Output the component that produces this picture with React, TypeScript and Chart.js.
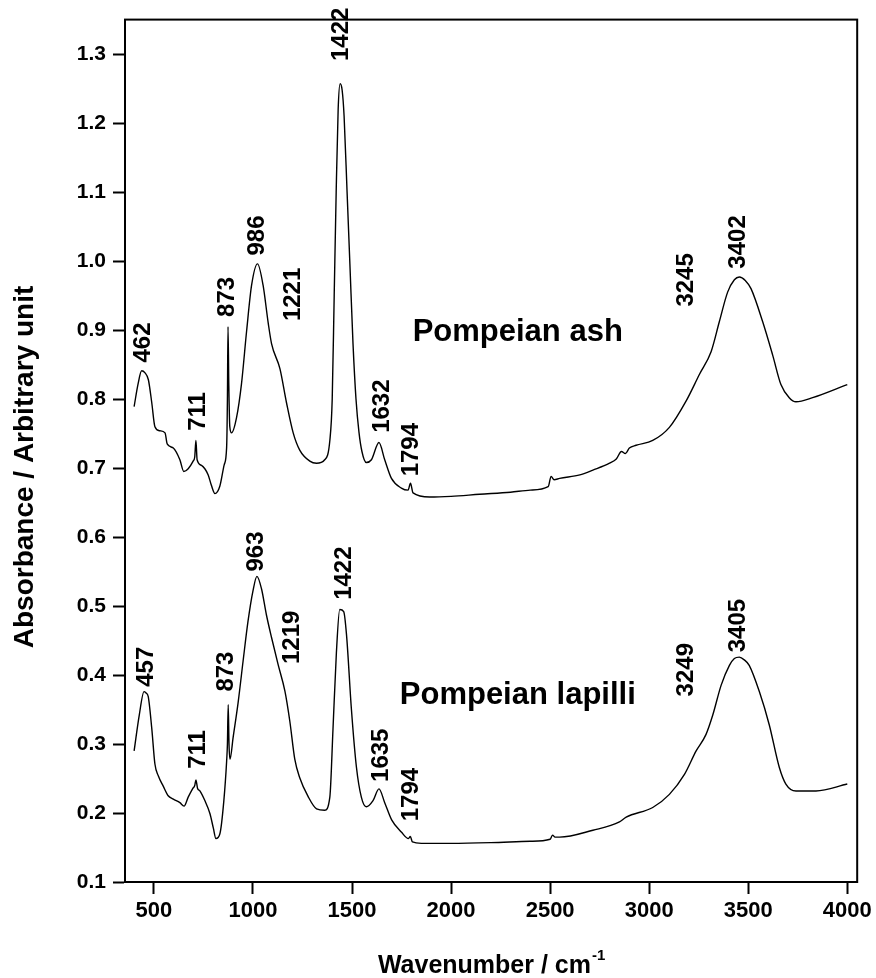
import React, { useEffect, useRef } from "react";
import { Chart, registerables } from "chart.js";

Chart.register(...registerables);

const FONT = "'Liberation Sans', Arial, Helvetica, sans-serif";

// Pompeian ash spectrum
const ashWavenumbers = [
  400, 420, 438, 455, 472, 489, 505, 530, 556, 567, 598, 631, 651, 673, 698, 706, 712, 718, 740, 757,
  774, 790, 808, 833, 855, 867, 871, 874, 878, 883, 892, 917, 942, 968, 993, 1023, 1051, 1077, 1094, 1136,
  1169, 1203, 1236, 1287, 1321, 1362, 1388, 1400, 1410, 1420, 1430, 1440, 1450, 1460, 1475, 1490, 1505, 1520, 1535, 1550,
  1572, 1598, 1636, 1665, 1699, 1749, 1783, 1795, 1808, 1892, 2000, 2144, 2300, 2400, 2490, 2505, 2520, 2548, 2650, 2716,
  2800, 2834, 2860, 2880, 2900, 2934, 3018, 3102, 3186, 3254, 3313, 3354, 3396, 3430, 3455, 3485, 3514, 3573, 3623, 3665,
  3707, 3741, 3825, 4000,
];
const ashAbsorbance = [
  0.789, 0.822, 0.841, 0.838, 0.828, 0.795, 0.76, 0.754, 0.751, 0.735, 0.729, 0.712, 0.695, 0.699, 0.71, 0.716, 0.74, 0.712, 0.704, 0.699,
  0.69, 0.675, 0.663, 0.674, 0.705, 0.73, 0.8, 0.905, 0.82, 0.76, 0.751, 0.773, 0.822, 0.899, 0.965, 0.996, 0.965, 0.91, 0.88, 0.844,
  0.795, 0.751, 0.726, 0.71, 0.707, 0.712, 0.74, 0.8, 0.95, 1.1, 1.22, 1.257, 1.248, 1.21, 1.1, 0.99, 0.88, 0.8, 0.752, 0.724,
  0.708, 0.712, 0.737, 0.712, 0.685, 0.671, 0.668, 0.678, 0.664, 0.658, 0.659, 0.662, 0.665, 0.668, 0.673, 0.688, 0.683, 0.685, 0.69, 0.697,
  0.707, 0.713, 0.724, 0.721, 0.729, 0.733, 0.74, 0.759, 0.797, 0.836, 0.869, 0.912, 0.955, 0.973, 0.977, 0.972, 0.96, 0.912, 0.864, 0.821,
  0.802, 0.796, 0.802, 0.821,
];

// Pompeian lapilli spectrum
const lapilliWavenumbers = [
  400, 426, 450, 460, 471, 489, 505, 522, 547, 572, 598, 631, 652, 673, 695, 706, 712, 720, 732, 757,
  783, 800, 813, 833, 853, 867, 871, 875, 879, 884, 900, 925, 950, 975, 1000, 1020, 1043, 1068, 1094, 1127,
  1161, 1186, 1211, 1236, 1278, 1321, 1362, 1388, 1404, 1421, 1438, 1458, 1472, 1497, 1522, 1547, 1572, 1606, 1636, 1665,
  1700, 1750, 1785, 1794, 1805, 1850, 2000, 2200, 2400, 2500, 2512, 2525, 2548, 2716, 2850, 2884, 3018, 3102, 3178, 3237,
  3287, 3321, 3363, 3405, 3430, 3455, 3480, 3505, 3556, 3606, 3657, 3690, 3741, 3842, 4000,
];
const lapilliAbsorbance = [
  0.29, 0.342, 0.376, 0.374, 0.369, 0.323, 0.271, 0.254, 0.239, 0.225, 0.22, 0.215, 0.21, 0.223, 0.235, 0.24, 0.248, 0.236, 0.232, 0.218,
  0.199, 0.178, 0.163, 0.17, 0.218, 0.275, 0.3, 0.357, 0.3, 0.278, 0.31, 0.36, 0.42, 0.478, 0.522, 0.543, 0.525, 0.487, 0.454, 0.415,
  0.377, 0.333, 0.278, 0.251, 0.224, 0.206, 0.204, 0.223, 0.322, 0.432, 0.495, 0.492, 0.459, 0.35, 0.267, 0.223, 0.209, 0.218, 0.235, 0.215,
  0.19, 0.172, 0.163, 0.166, 0.158, 0.156, 0.156, 0.157, 0.159, 0.162, 0.168, 0.165, 0.165, 0.175, 0.187, 0.194, 0.208, 0.227, 0.256, 0.29,
  0.314, 0.342, 0.385, 0.414, 0.424, 0.426, 0.422, 0.414, 0.376, 0.328, 0.266, 0.242, 0.232, 0.232, 0.242,
];

// Axis ticks
const xTickValues = [500, 1000, 1500, 2000, 2500, 3000, 3500, 4000];
const yTickValues = [0.1, 0.2, 0.3, 0.4, 0.5, 0.6, 0.7, 0.8, 0.9, 1.0, 1.1, 1.2, 1.3];

// Peak labels: text, anchor wavenumber, anchor absorbance (start of rotated text)
const peakLabelTexts = [
  "462", "711", "873", "986", "1221", "1422", "1632", "1794", "3245", "3402",
  "457", "711", "873", "963", "1219", "1422", "1635", "1794", "3249", "3405",
];
const peakLabelWavenumbers = [
  445, 723, 870, 1021, 1203, 1445, 1652, 1800, 3189, 3451,
  460, 722, 867, 1018, 1201, 1463, 1648, 1800, 3189, 3451,
];
const peakLabelAbsorbance = [
  0.853, 0.754, 0.919, 1.008, 0.913, 1.29, 0.751, 0.688, 0.934, 0.989,
  0.383, 0.264, 0.376, 0.55, 0.416, 0.509, 0.245, 0.188, 0.369, 0.433,
];

// Sample names
const sampleNames = ["Pompeian ash", "Pompeian lapilli"];
const sampleNameWavenumbers = [1806, 1741];
const sampleNameAbsorbance = [0.896, 0.37];

// Axis titles
const xTitle = "Wavenumber / cm";
const xTitleSup = "-1";
const yTitle = "Absorbance / Arbitrary unit";

const toPoints = (xs: number[], ys: number[]) => xs.map((x, i) => ({ x, y: ys[i] }));

const framePlugin = {
  id: "frame",
  afterDraw(chart: any) {
    const { ctx, chartArea } = chart;
    ctx.save();
    ctx.strokeStyle = "#000";
    ctx.lineWidth = 2;
    ctx.strokeRect(chartArea.left, chartArea.top, chartArea.right - chartArea.left, chartArea.bottom - chartArea.top);
    ctx.restore();
  },
};

const labelsPlugin = {
  id: "peakLabels",
  afterDatasetsDraw(chart: any) {
    const { ctx, scales } = chart;
    const xs = scales.x;
    const ys = scales.y;
    ctx.save();
    ctx.fillStyle = "#000";
    ctx.font = `bold 24px ${FONT}`;
    ctx.textAlign = "left";
    ctx.textBaseline = "middle";
    peakLabelTexts.forEach((t, i) => {
      const px = xs.getPixelForValue(peakLabelWavenumbers[i]);
      const py = ys.getPixelForValue(peakLabelAbsorbance[i]);
      ctx.save();
      ctx.translate(px, py);
      ctx.rotate(-Math.PI / 2);
      ctx.fillText(t, 0, 0);
      ctx.restore();
    });
    ctx.font = `bold 31px ${FONT}`;
    sampleNames.forEach((t, i) => {
      const px = xs.getPixelForValue(sampleNameWavenumbers[i]);
      const py = ys.getPixelForValue(sampleNameAbsorbance[i]);
      ctx.fillText(t, px, py);
    });
    ctx.restore();
  },
};

const titlesPlugin = {
  id: "axisTitles",
  afterDraw(chart: any) {
    const { ctx, chartArea } = chart;
    ctx.save();
    ctx.fillStyle = "#000";
    ctx.textBaseline = "alphabetic";
    ctx.textAlign = "left";
    ctx.font = `bold 25px ${FONT}`;
    const w1 = ctx.measureText(xTitle).width;
    ctx.font = `bold 15px ${FONT}`;
    const w2 = ctx.measureText(xTitleSup).width;
    const cx = (chartArea.left + chartArea.right) / 2;
    const x0 = cx - (w1 + w2) / 2;
    const baseY = 973;
    ctx.font = `bold 25px ${FONT}`;
    ctx.fillText(xTitle, x0, baseY);
    ctx.font = `bold 15px ${FONT}`;
    ctx.fillText(xTitleSup, x0 + w1 + 1, baseY - 13);

    // y title, rotated
    ctx.font = `bold 28px ${FONT}`;
    ctx.textAlign = "center";
    ctx.textBaseline = "middle";
    ctx.translate(25, 467);
    ctx.rotate(-Math.PI / 2);
    ctx.fillText(yTitle, 0, 0);
    ctx.restore();
  },
};

export default function App() {
  const ref = useRef<HTMLCanvasElement>(null);
  useEffect(() => {
    if (!ref.current) return;
    const chart = new Chart(ref.current, {
      type: "line",
      data: {
        datasets: [
          {
            label: sampleNames[0],
            data: toPoints(ashWavenumbers, ashAbsorbance),
            borderColor: "#000",
            borderWidth: 1.4,
            pointRadius: 0,
            fill: false,
            cubicInterpolationMode: "monotone",
          },
          {
            label: sampleNames[1],
            data: toPoints(lapilliWavenumbers, lapilliAbsorbance),
            borderColor: "#000",
            borderWidth: 1.4,
            pointRadius: 0,
            fill: false,
            cubicInterpolationMode: "monotone",
          },
        ],
      },
      options: {
        responsive: false,
        animation: false,
        layout: { padding: { top: 13, right: 18, left: 0, bottom: 0 } },
        plugins: { legend: { display: false }, tooltip: { enabled: false } },
        scales: {
          x: {
            type: "linear",
            min: 354,
            max: 4050,
            afterBuildTicks: (s: any) => {
              s.ticks = xTickValues.map((v) => ({ value: v }));
            },
            afterFit: (s: any) => {
              s.height = 96;
            },
            ticks: {
              callback: (v: any) => String(v),
              color: "#000",
              font: { family: FONT, size: 22, weight: "bold" },
              padding: 4,
              maxRotation: 0,
              autoSkip: false,
            },
            grid: { drawOnChartArea: false, drawTicks: true, tickLength: 12, tickWidth: 2, tickColor: "#000" },
            border: { display: true, color: "#000", width: 2 },
          },
          y: {
            type: "linear",
            min: 0.1,
            max: 1.35,
            afterBuildTicks: (s: any) => {
              s.ticks = yTickValues.map((v) => ({ value: v }));
            },
            afterFit: (s: any) => {
              s.width = 125;
            },
            ticks: {
              callback: (v: any) => Number(v).toFixed(1),
              color: "#000",
              font: { family: FONT, size: 21, weight: "bold" },
              padding: 7,
              autoSkip: false,
            },
            grid: { drawOnChartArea: false, drawTicks: true, tickLength: 12, tickWidth: 2, tickColor: "#000" },
            border: { display: true, color: "#000", width: 2 },
          },
        },
      },
      plugins: [framePlugin, labelsPlugin, titlesPlugin],
    } as any);
    return () => chart.destroy();
  }, []);
  return (
    <div style={{ position: "absolute", left: 0, top: 0, width: 876, height: 978, background: "#fff" }}>
      <canvas ref={ref} width={876} height={978} style={{ display: "block" }} />
    </div>
  );
}
